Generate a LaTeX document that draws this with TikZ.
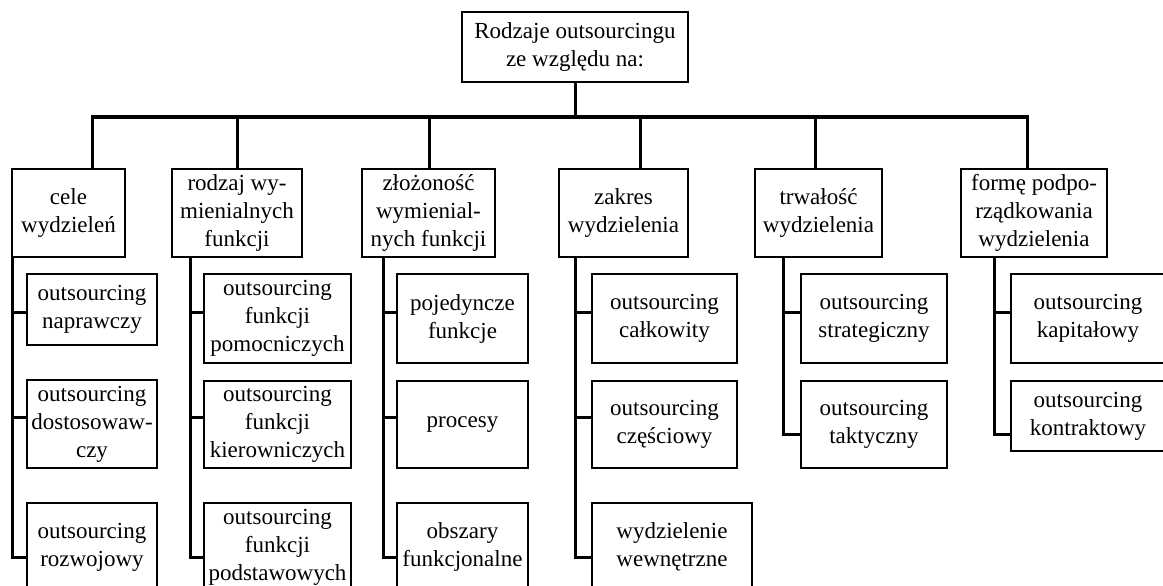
\documentclass[tikz,border=0pt]{standalone}
\usepackage{fontspec}
\setmainfont{Liberation Serif}
\begin{document}
\begin{tikzpicture}[x=1pt,y=-1pt,
  box/.style={draw, line width=2.8pt, inner sep=0pt, align=center,
    font=\fontsize{23}{28}\selectfont},
  conn/.style={line width=3pt}]
\useasboundingbox (0,0) rectangle (1163,586);
\clip (0,0) rectangle (1163,586);
% root
\node[box, minimum width=226pt, minimum height=70pt] (root) at (575,47) {Rodzaje outsourcingu\\ze względu na:};
% categories
\node[box, minimum width=113pt, minimum height=88pt] (c1) at (68.5,213) {cele\\wydzieleń};
\node[box, minimum width=130pt, minimum height=88pt] (c2) at (237,213) {rodzaj wy-\\mienialnych\\funkcji};
\node[box, minimum width=133pt, minimum height=88pt] (c3) at (428.5,213) {złożoność\\wymienial-\\nych funkcji};
\node[box, minimum width=129pt, minimum height=88pt] (c4) at (623.5,213) {zakres\\wydzielenia};
\node[box, minimum width=127pt, minimum height=88pt] (c5) at (818.5,213) {trwałość\\wydzielenia};
\node[box, minimum width=146pt, minimum height=88pt] (c6) at (1034,213) {formę podpo-\\rządkowania\\wydzielenia};
% children
\node[box, minimum width=130pt, minimum height=71pt] (k11) at (92,309.5) {outsourcing\\naprawczy};
\node[box, minimum width=130pt, minimum height=88pt] (k12) at (92,424) {outsourcing\\dostosowaw-\\czy};
\node[box, minimum width=130pt, minimum height=88pt] (k13) at (92,547) {outsourcing\\rozwojowy};
\node[box, minimum width=147pt, minimum height=89pt] (k21) at (277.5,318.5) {outsourcing\\funkcji\\pomocniczych};
\node[box, minimum width=147pt, minimum height=87pt] (k22) at (277.5,424.5) {outsourcing\\funkcji\\kierowniczych};
\node[box, minimum width=147pt, minimum height=88pt] (k23) at (277.5,547) {outsourcing\\funkcji\\podstawowych};
\node[box, minimum width=131pt, minimum height=89pt] (k31) at (462.5,318.5) {pojedyncze\\funkcje};
\node[box, minimum width=131pt, minimum height=87pt] (k32) at (462.5,424.5) {procesy};
\node[box, minimum width=131pt, minimum height=88pt] (k33) at (462.5,547) {obszary\\funkcjonalne};
\node[box, minimum width=145pt, minimum height=89pt] (k41) at (664.5,318.5) {outsourcing\\całkowity};
\node[box, minimum width=145pt, minimum height=87pt] (k42) at (664.5,424.5) {outsourcing\\częściowy};
\node[box, minimum width=160pt, minimum height=88pt] (k43) at (672,547) {wydzielenie\\wewnętrzne};
\node[box, minimum width=146pt, minimum height=89pt] (k51) at (874,318.5) {outsourcing\\strategiczny};
\node[box, minimum width=146pt, minimum height=87pt] (k52) at (874,424.5) {outsourcing\\taktyczny};
\node[box, minimum width=154pt, minimum height=89pt] (k61) at (1088,318.5) {outsourcing\\kapitałowy};
\node[box, minimum width=154pt, minimum height=70pt] (k62) at (1088,416) {outsourcing\\kontraktowy};
% bus
\coordinate (b1) at (92,117);
\coordinate (b2) at (237,117);
\coordinate (b3) at (429,117);
\coordinate (b4) at (640,117);
\coordinate (b5) at (815,117);
\coordinate (b6) at (1027,117);
\draw[conn] (root.south) -- (root.south |- b1);
\draw[conn, line cap=rect] (b1) -- (b6);
\foreach \i in {1,...,6} { \draw[conn] (b\i) -- (b\i |- c\i.north); }
% trunk tie points
\coordinate (u11) at (12,312);  \coordinate (u12) at (12,417);  \coordinate (u13) at (12,557);
\coordinate (u21) at (190,312); \coordinate (u22) at (190,417); \coordinate (u23) at (190,557);
\coordinate (u31) at (383,312); \coordinate (u32) at (383,417); \coordinate (u33) at (383,557);
\coordinate (u41) at (575,312); \coordinate (u42) at (575,417); \coordinate (u43) at (575,557);
\coordinate (u51) at (783,312); \coordinate (u52) at (783,434);
\coordinate (u61) at (994,312); \coordinate (u62) at (994,434);
\foreach \i in {1,2,3,4} {
  \draw[conn, line cap=rect] (u\i1 |- c\i.south) -- (u\i3);
  \foreach \j in {1,2,3} { \draw[conn] (u\i\j) -- (u\i\j -| k\i\j.west); }
}
\foreach \i in {5,6} {
  \draw[conn, line cap=rect] (u\i1 |- c\i.south) -- (u\i2);
  \foreach \j in {1,2} { \draw[conn] (u\i\j) -- (u\i\j -| k\i\j.west); }
}
\end{tikzpicture}
\end{document}
